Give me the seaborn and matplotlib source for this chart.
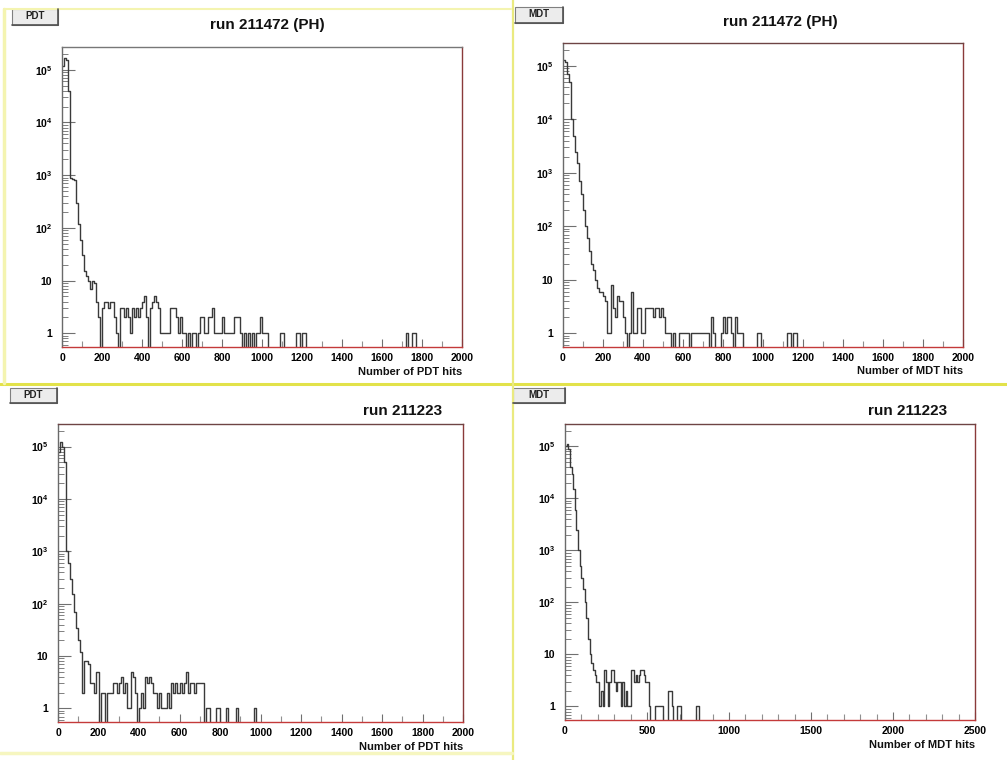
import numpy as np
import pandas as pd
import matplotlib
matplotlib.use("Agg")
import matplotlib.pyplot as plt
from matplotlib.lines import Line2D
from matplotlib.patches import Rectangle
from matplotlib.ticker import MultipleLocator, LogLocator, NullFormatter, FuncFormatter
import seaborn as sns

sns.set_theme(style="white")
plt.rcParams["font.family"] = ["Liberation Sans", "DejaVu Sans"]
plt.rcParams["mathtext.fontset"] = "custom"
plt.rcParams["mathtext.rm"] = "Liberation Sans:bold"
plt.rcParams["mathtext.bf"] = "Liberation Sans:bold"

W, H = 1007, 760
BIN = 10

# --- run 211472 (PH), PDT: counts per 10-hit bin from 0, then sparse tail bins
pdt_ph_core = [1.2e5, 1.7e5, 1.5e5, 4e4, 900, 850, 800, 300, 120, 60, 30, 15, 12, 10, 7, 10, 9, 4, 2, 0,
               3, 4, 4, 3, 4, 4, 2, 1, 0, 3, 3, 2, 3, 2, 1, 3, 2, 3, 2, 3, 4, 5, 2, 0,
               3, 4, 5, 4, 3, 1, 1, 1, 1, 1, 3, 3, 3, 2, 1, 2, 1, 1]
pdt_ph_tail_x = [630, 650, 660, 680, 690, 700, 710, 720, 730, 740, 750, 760, 770, 780, 790, 800, 810,
                 820, 830, 840, 850, 860, 870, 880, 890, 910, 930, 950, 970, 980, 990, 1000, 1010,
                 1020, 1090, 1100, 1170, 1180, 1200, 1210, 1720, 1750, 1760]
pdt_ph_tail_n = [1, 1, 1, 1, 2, 2, 1, 1, 2, 2, 3, 1, 1, 1, 1, 2, 1,
                 1, 1, 1, 1, 2, 2, 2, 1, 1, 1, 1, 1, 1, 2, 1, 1,
                 1, 1, 1, 1, 1, 1, 1, 1, 1, 1]

# --- run 211472 (PH), MDT
mdt_ph_core = [1.3e5, 1.2e5, 7e4, 5e4, 1e4, 5e3, 2.5e3, 1.5e3, 700, 400, 200, 100, 60, 35, 20, 15, 10,
               7, 6, 6, 5, 4, 1, 1, 8, 3, 2, 5, 4, 4, 2, 1, 0, 1, 6, 1, 1, 3, 3, 1, 1, 3, 3, 3, 3,
               2, 3, 3, 2, 3, 2, 1, 1, 1]
mdt_ph_tail_x = [550, 580, 590, 600, 610, 620, 640, 650, 660, 670, 680, 690, 700, 710, 720, 740, 750,
                 790, 800, 810, 820, 830, 840, 860, 870, 880, 890, 970, 980, 1120, 1130, 1150, 1160]
mdt_ph_tail_n = [1, 1, 1, 1, 1, 1, 1, 1, 1, 1, 1, 1, 1, 1, 1, 2, 1,
                 1, 2, 1, 2, 2, 1, 2, 1, 1, 1, 1, 1, 1, 1, 1, 1]

# --- run 211223, PDT
pdt_core = [8e4, 1.2e5, 1e5, 5e4, 1e3, 600, 300, 150, 70, 35, 20, 12, 2, 8, 8, 7, 3, 3, 2, 5, 0,
            2, 2, 0, 2, 2, 2, 3, 3, 2, 3, 4, 2, 3, 1, 1, 5, 4, 2, 0, 1, 2, 1, 4, 3, 4, 3, 2, 2, 1,
            2, 1, 1, 1, 2, 1, 3, 2, 3, 2, 3, 2, 3, 5, 2, 3, 3, 2, 3, 3, 3, 3]
pdt_tail_x = [730, 740, 780, 790, 830, 880, 970]
pdt_tail_n = [1, 1, 1, 1, 1, 1, 1]

# --- run 211223, MDT
mdt_core = [1e5, 1.1e5, 9e4, 4e4, 3e4, 1.5e4, 6e3, 2.5e3, 1e3, 500, 300, 180, 100, 50, 20, 10, 7, 5,
            4, 3, 3, 1, 2, 1, 5, 3, 1, 3, 5, 5, 3, 2, 3, 3, 1, 3, 1, 2, 1, 1, 5, 5, 3, 4, 3, 4, 5,
            5, 4, 3, 3, 1]
mdt_tail_x = [550, 560, 570, 580, 590, 630, 640, 650, 680, 690, 700, 800, 810]
mdt_tail_n = [1, 1, 1, 1, 1, 2, 2, 1, 1, 1, 1, 1, 1]

x_major = [200, 200, 200, 500]
x_max = [2000, 2000, 2000, 2500]
detectors = ["PDT", "MDT", "PDT", "MDT"]
titles = ["run 211472 (PH)", "run 211472 (PH)", "run 211223", "run 211223"]


def fx(p):
    return p / W


def fy(p):
    return 1 - p / H


def to_frame(core, tail_x, tail_n):
    x = list(np.arange(len(core)) * BIN) + list(tail_x)
    return pd.DataFrame({"hits": np.array(x, dtype=float) + BIN / 2,
                         "n": np.array(list(core) + list(tail_n), dtype=float)})


frames = [to_frame(pdt_ph_core, pdt_ph_tail_x, pdt_ph_tail_n),
          to_frame(mdt_ph_core, mdt_ph_tail_x, mdt_ph_tail_n),
          to_frame(pdt_core, pdt_tail_x, pdt_tail_n),
          to_frame(mdt_core, mdt_tail_x, mdt_tail_n)]

# frame boxes in pixels: left, top, right, bottom
boxes = [(62, 47, 462, 347), (563, 43, 963, 347), (58, 424, 463, 722), (565, 424, 975, 720)]
title_pos = [(267, 25), (780, 22), (403, 411), (908, 411)]
button_pos = [(12, 9, 46, 16), (515, 7, 48, 16), (10, 388, 47, 15), (513, 388, 52, 15)]
label_y = [372, 371, 747, 745]

fig = plt.figure(figsize=(W / 100, H / 100), dpi=100)
fig.patch.set_facecolor("white")

# pad separators (ROOT canvas look)
fig.add_artist(Line2D([0, 1], [fy(384), fy(384)], color="#e2e24a", lw=2.2, transform=fig.transFigure))
fig.add_artist(Line2D([fx(513), fx(513)], [0, 1], color="#eaea80", lw=1.6, transform=fig.transFigure))
fig.add_artist(Line2D([fx(4), fx(511)], [fy(9), fy(9)], color="#f4f4b0", lw=1.5, transform=fig.transFigure))
fig.add_artist(Line2D([fx(4), fx(4)], [fy(9), fy(383)], color="#f4f4b0", lw=2.5, transform=fig.transFigure))
fig.add_artist(Line2D([0, fx(512)], [fy(753), fy(753)], color="#f6f6c0", lw=2.5, transform=fig.transFigure))

for i, df in enumerate(frames):
    l, t, r, b = boxes[i]
    ax = fig.add_axes([fx(l), fy(b), fx(r) - fx(l), (b - t) / H])
    sns.histplot(data=df, x="hits", weights="n", binwidth=BIN, binrange=(0, x_max[i]),
                 element="step", fill=False, color="#3a3a3a", linewidth=1.0, ax=ax)
    ax.set_yscale("log")
    ax.set_xlim(0, x_max[i])
    ax.set_ylim(0.55, 2.7e5)
    ax.set_xlabel("")
    ax.set_ylabel("")
    ax.set_facecolor("white")

    ax.xaxis.set_major_locator(MultipleLocator(x_major[i]))
    ax.xaxis.set_minor_locator(MultipleLocator(100))
    ax.yaxis.set_major_locator(LogLocator(base=10, numticks=10))
    ax.yaxis.set_minor_locator(LogLocator(base=10, subs=np.arange(2, 10), numticks=20))
    ax.yaxis.set_minor_formatter(NullFormatter())
    ax.yaxis.set_major_formatter(FuncFormatter(
        lambda v, _: "1" if v == 1 else ("10" if v == 10 else r"$10^{%d}$" % round(np.log10(v)))))

    ax.tick_params(axis="x", which="both", bottom=True, top=False)
    ax.tick_params(axis="y", which="both", left=True, right=False)
    ax.tick_params(axis="x", which="major", direction="in", length=6, width=0.8, color="#707070",
                   labelcolor="black", labelsize=7.5, pad=4)
    ax.tick_params(axis="x", which="minor", direction="in", length=4, width=0.8, color="#909090")
    ax.tick_params(axis="y", which="major", direction="in", length=9, width=0.8, color="#707070",
                   labelcolor="black", labelsize=7.5, pad=7)
    ax.tick_params(axis="y", which="minor", direction="in", length=4.5, width=0.7, color="#808080")
    for lab in ax.get_xticklabels() + ax.get_yticklabels():
        lab.set_fontweight("bold")

    ax.spines["left"].set_color("#6a6a6a")
    ax.spines["top"].set_color("#6e4444" if i else "#777777")
    ax.spines["right"].set_color("#8a3a3a")
    ax.spines["bottom"].set_color("#c43a3a")
    for s in ax.spines.values():
        s.set_linewidth(1.0)

    fig.text(fx(title_pos[i][0]), fy(title_pos[i][1]), titles[i], ha="center", va="center",
             fontsize=11, fontweight="bold", color="#111111")
    fig.text(fx(r), fy(label_y[i]), f"Number of {detectors[i]} hits", ha="right", va="center",
             fontsize=8, fontweight="bold", color="#111111")

    bx, by, bw, bh = button_pos[i]
    fig.add_artist(Rectangle((fx(bx), fy(by + bh)), bw / W, bh / H, transform=fig.transFigure,
                             facecolor="#ececec", edgecolor="#808080", lw=0.8))
    fig.add_artist(Line2D([fx(bx), fx(bx + bw)], [fy(by + bh), fy(by + bh)], color="#505050", lw=1.2,
                          transform=fig.transFigure))
    fig.add_artist(Line2D([fx(bx + bw), fx(bx + bw)], [fy(by), fy(by + bh)], color="#505050", lw=1.2,
                          transform=fig.transFigure))
    fig.text(fx(bx + bw / 2), fy(by + bh / 2 - 1), detectors[i], ha="center", va="center",
             fontsize=7, fontweight="bold", color="#222222")

fig.savefig("out.png", dpi=100)
